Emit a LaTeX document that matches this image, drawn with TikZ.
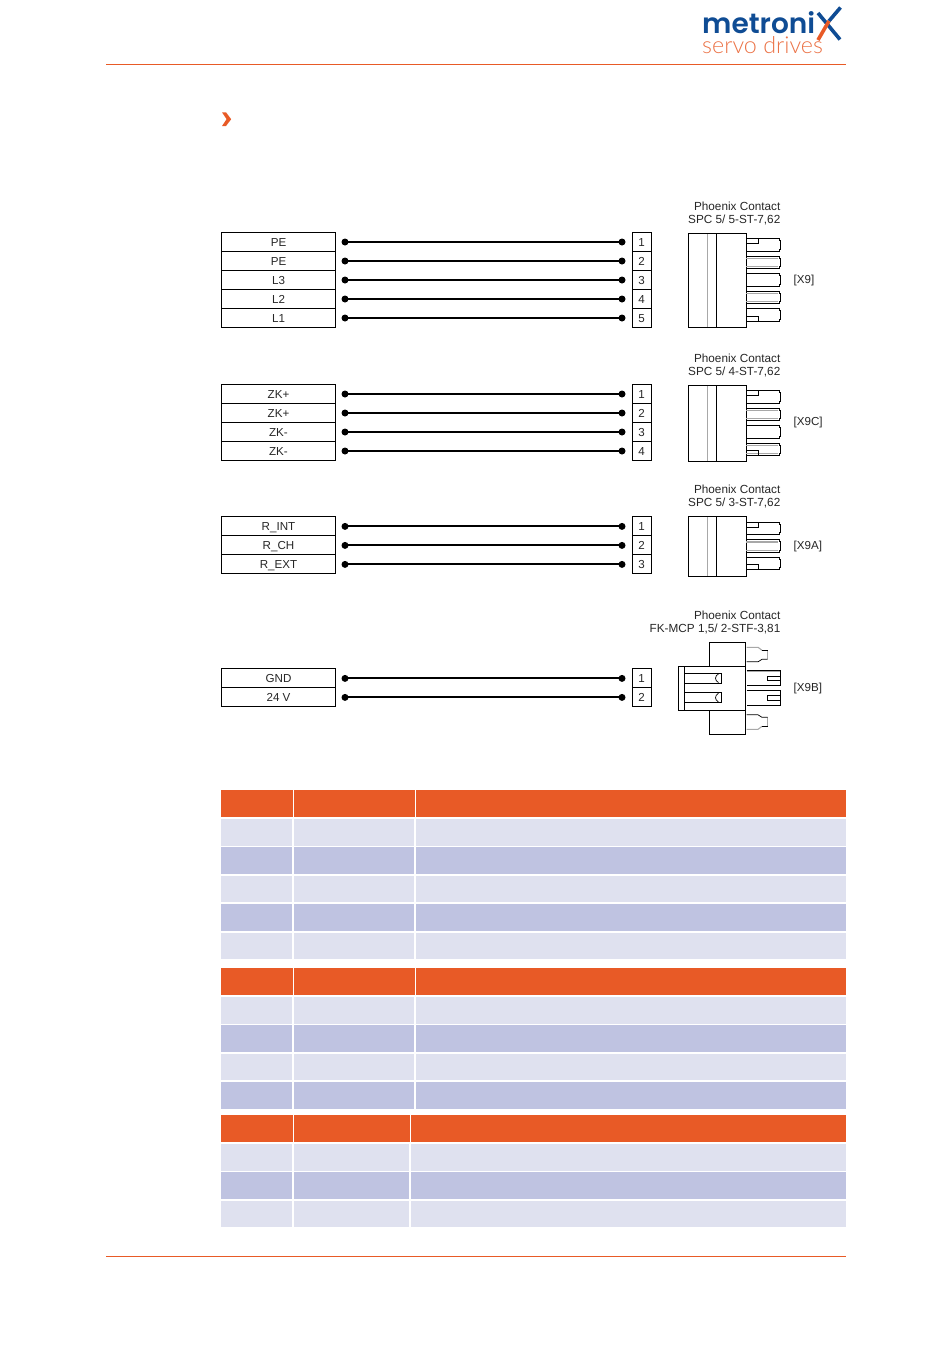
\documentclass[tikz,border=0pt]{standalone}
\usepackage{fontspec}
\setmainfont{Liberation Sans}
\newfontfamily\logofont{Poppins SemiBold}
\newfontfamily\logosubfont{Lato Light}
\usepackage{tikz}
\usetikzlibrary{positioning,calc}
\definecolor{mxorange}{HTML}{E85A26}
\definecolor{mxblue}{HTML}{0F4C94}
\definecolor{rowlight}{HTML}{DFE1EF}
\definecolor{rowdark}{HTML}{BFC3E1}
\definecolor{pingray}{HTML}{A8A8A8}
\tikzset{
	sigbox/.style={draw,line width=.9pt,minimum width=114pt,minimum height=19pt,inner sep=0pt,text height=8.2pt,text depth=0pt,font=\fontsize{11.6}{13}\selectfont,text=black!85},
	pinbox/.style={draw,line width=.9pt,minimum width=19pt,minimum height=19pt,inner sep=0pt,text height=8.2pt,text depth=0pt,font=\fontsize{11.6}{13}\selectfont,text=black!85},
	wiredot/.style={circle,fill=black,inner sep=0pt,minimum size=7pt},
	wire/.style={line width=2pt,shorten <=-1pt,shorten >=-1pt},
	caption/.style={align=right,anchor=east,inner sep=0pt,font=\fontsize{11.75}{13}\selectfont,text=black!85},
	xlabel/.style={anchor=west,inner sep=0pt,font=\fontsize{11.6}{13}\selectfont,text=black!85},
	conn/.style={line width=.9pt},
	connthin/.style={line width=.7pt},
	conngray/.style={line width=1.1pt,pingray}
}
% one block of labelled wires: prefix, top edge, labels
\newcommand{\wiregroup}[3]{
	\foreach \lab [count=\i] in {#3} {
		\node[sigbox] (#1s\i) at (278.5,{#2+9.5+19*(\i-1)}) {\lab};
		\node[pinbox] (#1p\i) at (641.5,{#2+9.5+19*(\i-1)}) {\i};
		\node[wiredot] (#1a\i) at (345,{#2+9.5+19*(\i-1)}) {};
		\node[wiredot] (#1b\i) at (622,{#2+9.5+19*(\i-1)}) {};
		\draw[wire] (#1a\i) -- (#1b\i);
	}
}
% plug body with pins: top edge, bottom edge, number of pins
\newcommand{\spcplug}[3]{
	\draw[conngray] (707.5,#1) -- (707.5,#2);
	\draw[conn] (688.5,#1) rectangle (746,#2);
	\draw[conn] (716.5,#1) -- (716.5,#2);
	\foreach \k in {1,...,#3} {
		\pgfmathsetmacro{\t}{(#1+#2)/2-(#3*17.5-5)/2+17.5*(\k-1)}
		\ifodd\k\else
			\draw[conngray] (746,\t+2.2) -- (778,\t+2.2);
			\draw[conngray] (746,\t+10.3) -- (778,\t+10.3);
		\fi
		\draw[connthin] (746,\t) -- (779,\t) -- (779,\t+2) -- (780.5,\t+2) -- (780.5,\t+10.5) -- (779,\t+10.5) -- (779,\t+12.5) -- (746,\t+12.5);
	}
	\pgfmathsetmacro{\t}{(#1+#2)/2-(#3*17.5-5)/2}
	\draw[connthin] (746,\t+5) -- (758.5,\t+5) -- (758.5,\t);
	\pgfmathsetmacro{\t}{(#1+#2)/2+(#3*17.5-5)/2}
	\draw[connthin] (746,\t-5) -- (758.5,\t-5) -- (758.5,\t);
}
% table block: header top, column edges, number of rows
\newcommand{\pintable}[4]{
	\fill[mxorange] (221,#1) rectangle (#2+1,#1+27);
	\fill[mxorange] (#2+2,#1) rectangle (#3+.5,#1+27);
	\fill[mxorange] (#3+1.5,#1) rectangle (846,#1+27);
	\foreach \r in {1,...,#4} {
		\pgfmathsetmacro{\yt}{#1+29+28.4*(\r-1)}
		\ifodd\r\def\rowcol{rowlight}\else\def\rowcol{rowdark}\fi
		\fill[\rowcol] (221,\yt) rectangle (#2,\yt+26.6);
		\fill[\rowcol] (#2+2,\yt) rectangle (#3-.5,\yt+26.6);
		\fill[\rowcol] (#3+1.5,\yt) rectangle (846,\yt+26.6);
	}
}
\begin{document}
\begin{tikzpicture}[x=1pt,y=-1pt]
	\useasboundingbox (0,0) rectangle (950,1353);
	% page head and foot
	\draw[mxorange,line width=.8pt] (106,64.5) -- (846,64.5);
	\draw[mxorange,line width=.8pt] (106,1256.5) -- (846,1256.5);
	\node[anchor=base west,inner sep=0pt,text depth=0pt,text=mxblue,font=\logofont\fontsize{28}{28}\selectfont] (logotop) at (702,33.5) {metroni};
	\node[anchor=base west,inner sep=0pt,text height=12pt,text depth=0pt,text=mxorange!85,font=\logosubfont\fontsize{23.3}{24}\selectfont] (logosub) at (702,53.5) {servo drives};
	\draw[mxblue,line width=3.6pt] (818,13) -- (840,39.5);
	\draw[mxblue,line width=3.6pt] (840.5,7.5) -- (829,21);
	\draw[mxorange,line width=3.6pt] (829,21) -- (818,40);
	\fill[mxorange] (222,112.3) -- (226,112.3) -- (231.2,119.2) -- (226,126) -- (222,126) -- (226.6,119.2) -- cycle;
	% wiring
	\wiregroup{x}{232.5}{PE,PE,L3,L2,L1}
	\wiregroup{c}{384.5}{ZK+,ZK+,ZK-,ZK-}
	\wiregroup{r}{516.9}{R\_INT,R\_CH,R\_EXT}
	\wiregroup{b}{668.9}{GND,24 V}
	% plugs
	\spcplug{233}{327}{5}
	\spcplug{385}{461}{4}
	\spcplug{516}{576}{3}
	\node[caption] (capx) at (780.5,213) {Phoenix Contact\\SPC 5/ 5-ST-7,62};
	\node[caption] (capc) at (780.5,365) {Phoenix Contact\\SPC 5/ 4-ST-7,62};
	\node[caption] (capr) at (780.5,496.3) {Phoenix Contact\\SPC 5/ 3-ST-7,62};
	\node[caption] (capb) at (780.5,622.3) {Phoenix Contact\\FK-MCP 1,5/ 2-STF-3,81};
	\node[xlabel] (lx) at (793.5,280.5) {[X9]};
	\node[xlabel] (lc) at (793.5,422.5) {[X9C]};
	\node[xlabel] (lr) at (793.5,546) {[X9A]};
	\node[xlabel] (lb) at (793.5,688.5) {[X9B]};
	% small plug
	\draw[conn] (709.5,666) -- (709.5,642.7) -- (745.7,642.7) -- (745.7,734.7) -- (709.5,734.7) -- (709.5,710.3);
	\draw[conn] (678.5,666) rectangle (745.7,710.3);
	\draw[conn] (684.4,666) -- (684.4,710.3);
	\foreach \yi in {673.3,692.7} {
		\draw[conn] (684.4,\yi) -- (721.7,\yi) -- (721.7,\yi+9.8) -- (684.4,\yi+9.8);
		\draw[connthin] (718.5,\yi+.5) .. controls (714.5,\yi+3) and (714.5,\yi+7) .. (718.5,\yi+9.3);
	}
	\foreach \ym/\dir in {647.3/1,729.3/-1} {
		\draw[conngray] (746.5,\ym) -- (758,\ym) -- (762,\ym+3*\dir);
		\draw[conngray] (767.7,\ym+3*\dir) -- (767.7,\ym+12*\dir);
		\draw[connthin] (762,\ym+3*\dir) -- (767.7,\ym+3*\dir);
		\draw[connthin] (746.5,\ym+14.5*\dir) -- (758,\ym+14.5*\dir) -- (762,\ym+12*\dir) -- (767.7,\ym+12*\dir);
	}
	\foreach \yi in {670.7,690} {
		\draw[conngray] (747,\yi+.8) -- (780,\yi+.8);
		\draw[connthin] (746.5,\yi) -- (780.7,\yi) -- (780.7,\yi+15) -- (746.5,\yi+15);
		\draw[connthin] (780.7,\yi+5.3) -- (767.4,\yi+5.3) -- (767.4,\yi+10) -- (780.7,\yi+10);
	}
	% tables
	\pintable{790}{292}{414.5}{5}
	\pintable{968}{292}{414.5}{4}
	\pintable{1115}{292}{409.5}{3}
\end{tikzpicture}
\end{document}
